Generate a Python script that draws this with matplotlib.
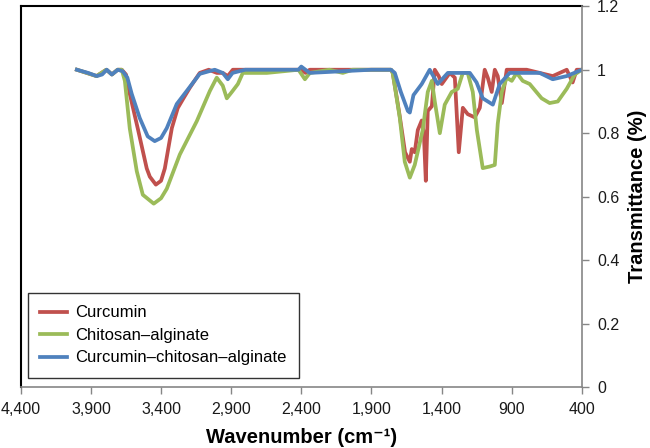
import numpy as np
import matplotlib
matplotlib.use("Agg")
import matplotlib.pyplot as plt
from matplotlib.ticker import FixedLocator, FuncFormatter

# ---- Data (wavenumber in cm-1, transmittance) ----
curcumin_wn = [4000, 3860, 3790, 3750, 3710, 3680, 3650, 3623, 3566, 3502, 3480, 3437,
               3400, 3373, 3323, 3281, 3240, 3195, 3124, 3060, 3002, 2960, 2924, 2888,
               2800, 2400, 2370, 2340, 1900, 1760, 1748, 1700, 1660, 1626, 1612, 1591,
               1569, 1541, 1526, 1512, 1498, 1469, 1448, 1420, 1398, 1341, 1305, 1277,
               1248, 1213, 1163, 1127, 1092, 1070, 1042, 1020, 999, 970, 935, 793, 700,
               607, 507, 465, 436, 400]
curcumin_t = [1.0, 0.98, 1.0, 0.985, 1.0, 1.0, 0.985, 0.924, 0.815, 0.689, 0.663, 0.638,
              0.65, 0.689, 0.816, 0.879, 0.91, 0.943, 0.99, 1.0, 0.99, 0.99, 0.98, 1.0,
              1.0, 1.0, 0.99, 1.0, 1.0, 1.0, 0.99, 0.86, 0.74, 0.71, 0.75, 0.74,
              0.81, 0.84, 0.80, 0.65, 0.87, 0.885, 1.0, 0.98, 0.955, 0.99, 0.975, 0.74,
              0.88, 0.86, 0.85, 0.88, 1.0, 0.975, 0.93, 1.0, 0.98, 0.895, 1.0, 1.0, 0.99,
              0.98, 1.0, 0.96, 1.0, 1.0]

chitosan_wn = [4000, 3860, 3790, 3750, 3710, 3680, 3658, 3623, 3573, 3530, 3452, 3400,
               3359, 3266, 3145, 3052, 3003, 2960, 2931, 2895, 2852, 2817,
               2646, 2420, 2374, 2339, 2200, 2104, 2033, 1900, 1760, 1748, 1698, 1662,
               1626, 1591, 1534, 1498, 1469, 1448, 1412, 1377, 1327, 1284, 1248, 1213,
               1177, 1148, 1106, 1056, 1020, 999, 970, 935, 899, 864, 821, 771, 686,
               629, 571, 507, 450, 400]
chitosan_t = [1.0, 0.98, 1.0, 0.985, 1.0, 1.0, 0.965, 0.815, 0.68, 0.606, 0.578, 0.595,
              0.625, 0.733, 0.838, 0.933, 0.975, 0.95, 0.91, 0.93, 0.955, 0.99,
              0.99, 1.0, 0.97, 0.99, 1.0, 0.99, 1.0, 1.0, 1.0, 0.99, 0.85, 0.71,
              0.66, 0.70, 0.81, 0.93, 0.965, 0.90, 0.80, 0.89, 0.93, 0.94, 0.99, 0.99,
              0.93, 0.81, 0.69, 0.695, 0.70, 0.83, 0.93, 0.975, 0.965, 0.99, 0.965, 0.955,
              0.91, 0.895, 0.90, 0.94, 0.985, 1.0]

combo_wn = [4000, 3920, 3858, 3820, 3787, 3751, 3708, 3673, 3640, 3609, 3552, 3495,
            3445, 3400, 3359, 3288, 3217, 3124, 3060, 3017, 2960, 2924, 2890,
            2800, 2420, 2400, 2370, 2340, 1900, 1760, 1733, 1690, 1640, 1626, 1600,
            1541, 1484, 1427, 1355, 1270, 1198, 1150, 1106, 1034, 985, 914, 821, 700,
            607, 507, 400]
combo_t = [1.0, 0.99, 0.98, 0.985, 1.0, 0.985, 1.0, 0.995, 0.975, 0.924, 0.848, 0.79,
           0.775, 0.785, 0.816, 0.892, 0.933, 0.987, 0.995, 1.0, 0.99, 0.97, 0.99,
           1.0, 1.0, 1.01, 1.0, 0.99, 1.0, 1.0, 0.99, 0.93, 0.87, 0.865, 0.92,
           0.955, 1.0, 0.955, 0.99, 0.99, 0.99, 0.96, 0.91, 0.89, 0.955, 0.99, 0.99, 0.99,
           0.97, 0.98, 1.0]

x_ticks = [4400, 3900, 3400, 2900, 2400, 1900, 1400, 900, 400]
y_ticks = [0, 0.2, 0.4, 0.6, 0.8, 1.0, 1.2]

plt.rcParams.update({
    "font.family": ["Liberation Sans", "DejaVu Sans"],
    "font.size": 12,
})

axis_grey = "#868686"

fig = plt.figure(figsize=(6.5, 4.48), dpi=100)
ax = fig.add_axes([0.032, 0.136, 0.863, 0.850])

ax.plot(curcumin_wn, curcumin_t, color="#C0504D", lw=2.7, label="Curcumin",
        solid_joinstyle="round")
ax.plot(chitosan_wn, chitosan_t, color="#9BBB59", lw=2.7, label="Chitosan\u2013alginate",
        solid_joinstyle="round")
ax.plot(combo_wn, combo_t, color="#4F81BD", lw=2.7,
        label="Curcumin\u2013chitosan\u2013alginate", solid_joinstyle="round")

ax.set_xlim(4400, 400)
ax.set_ylim(0, 1.2)
ax.xaxis.set_major_locator(FixedLocator(x_ticks))
ax.xaxis.set_major_formatter(FuncFormatter(lambda v, p: f"{int(v):,}"))
ax.yaxis.set_major_locator(FixedLocator(y_ticks))
ax.yaxis.set_major_formatter(FuncFormatter(lambda v, p: f"{v:g}"))

ax.yaxis.tick_right()
ax.yaxis.set_label_position("right")
ax.tick_params(axis="both", direction="out", length=5, width=1, color=axis_grey,
               labelsize=11.5, labelcolor="#1a1a1a")
ax.tick_params(axis="x", pad=6)
ax.tick_params(axis="y", pad=6)

for side in ("left", "top"):
    ax.spines[side].set_color("black")
    ax.spines[side].set_linewidth(1.5)
for side in ("right", "bottom"):
    ax.spines[side].set_color(axis_grey)
    ax.spines[side].set_linewidth(1.2)
    ax.spines[side].set_zorder(3)

ax.set_xlabel("Wavenumber (cm\u207b\u00b9)", fontsize=14.5, fontweight="bold", labelpad=8)
ax.set_ylabel("Transmittance (%)", fontsize=14.5, fontweight="bold", labelpad=6)

leg = ax.legend(loc="lower left", bbox_to_anchor=(0.0125, 0.024), fontsize=12,
                frameon=True, fancybox=False, edgecolor="black", handlelength=1.6,
                handletextpad=0.5, labelspacing=0.45, borderpad=0.75,
                borderaxespad=0)
leg.get_frame().set_linewidth(1.0)

fig.savefig("out.png", dpi=100)
